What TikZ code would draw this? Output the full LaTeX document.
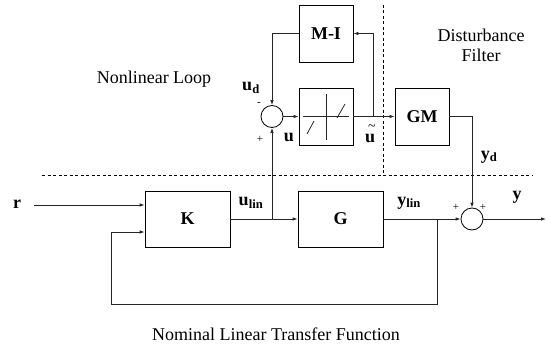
\documentclass[tikz,border=0pt]{standalone}
\usepackage{fontspec}
\setmainfont{Liberation Serif}
\usetikzlibrary{arrows.meta,calc}
\begin{document}
\begin{tikzpicture}[x=1pt,y=-1pt,
  every node/.style={font=\fontsize{18}{20}\selectfont},
  blk/.style={draw, line width=0.8pt, inner sep=0pt, font=\fontsize{18}{20}\selectfont\bfseries},
  sumc/.style={draw, circle, line width=0.8pt, minimum size=22pt, inner sep=0pt},
  wire/.style={line width=0.8pt, draw=black!85},
  arr/.style={wire, -{Latex[length=5pt,width=3.5pt]}},
  lbl/.style={font=\fontsize{18}{20}\selectfont\bfseries, inner sep=0pt},
  sgn/.style={font=\fontsize{11}{12}\selectfont, inner sep=0pt},
  sep/.style={line width=0.6pt, dash pattern=on 3pt off 2.5pt}]
\useasboundingbox (0,0) rectangle (551,345);

% blocks
\node[blk, minimum width=54pt, minimum height=57pt] (mi) at (326,33.5) {M-I};
\node[blk, minimum width=54pt, minimum height=57pt] (sat) at (326,116.5) {};
\node[blk, minimum width=54pt, minimum height=57pt] (gm) at (422,116.5) {GM};
\node[blk, minimum width=85pt, minimum height=56pt] (k) at (187.5,219) {K};
\node[blk, minimum width=85pt, minimum height=56pt] (g) at (340.5,219) {G};
\node[sumc] (s1) at (272,116.5) {};
\node[sumc] (s2) at (472,219) {};

% saturation symbol
\draw[wire] (303,116.5) -- (349,116.5);
\draw[wire] (326,94) -- (326,140);
\draw[wire] (307,134) -- (314,121);
\draw[wire] (337,118) -- (345,104);

% separators
\coordinate (hl) at (42,175);
\coordinate (hr) at (533,175);
\coordinate (vt) at (383,5);
\coordinate (vb) at (383,175);
\draw[sep] (hl) -- (hr);
\draw[sep] (vt) -- (vb);

% nonlinear loop
\draw[arr] (mi.west) -| (s1.north);
\draw[arr] (s1.east) -- (sat.west);
\draw[arr] (sat.east) -- (gm.west);
\coordinate (tap) at (373,116.5);
\draw[arr] (tap) |- (mi.east);

% linear loop
\coordinate (rin) at (34,205);
\draw[arr] (rin) -- (rin -| k.west);
\draw[arr] (k.east) -- (g.west);
\coordinate (ut) at (272,219);
\draw[arr] (ut) -- (s1.south);
\draw[arr] (g.east) -- (s2.west);
\draw[arr] (gm.east) -| (s2.north);
\coordinate (yout) at (546,219);
\draw[arr] (s2.east) -- (yout);
\coordinate (fb1) at (437,219);
\coordinate (fb2) at (437,304);
\coordinate (fb3) at (111,304);
\coordinate (fb4) at (111,232);
\draw[arr] (fb1) -- (fb2) -- (fb3) -- (fb4) -- (fb4 -| k.west);

% labels
\node[lbl] (lr) at (17,204) {r};
\node[lbl] (lulin) at (251,203) {u\textsubscript{lin}};
\node[lbl] (lylin) at (409,203) {y\textsubscript{lin}};
\node[lbl] (ly) at (517,197) {y};
\node[lbl] (lyd) at (489,157) {y\textsubscript{d}};
\node[lbl] (lud) at (251,88) {u\textsubscript{d}};
\node[lbl] (lu) at (289,137) {u};
\node[font=\fontsize{14}{14}\selectfont, inner sep=0pt] (ltil) at (372,128) {\textasciitilde};
\node[lbl] (lut) at (370,138) {u};
\node[sgn] (m1) at (259,104) {-};
\node[sgn] (p1) at (260,139) {+};
\node[sgn] (p2) at (456,207) {+};
\node[sgn] (p3) at (483,207) {+};

\node (nl) at (154,79) {Nonlinear Loop};
\node[align=center] (df) at (481,45) {Disturbance\\Filter};
\node[anchor=base] (nt) at (276,340) {Nominal Linear Transfer Function};
\end{tikzpicture}
\end{document}
